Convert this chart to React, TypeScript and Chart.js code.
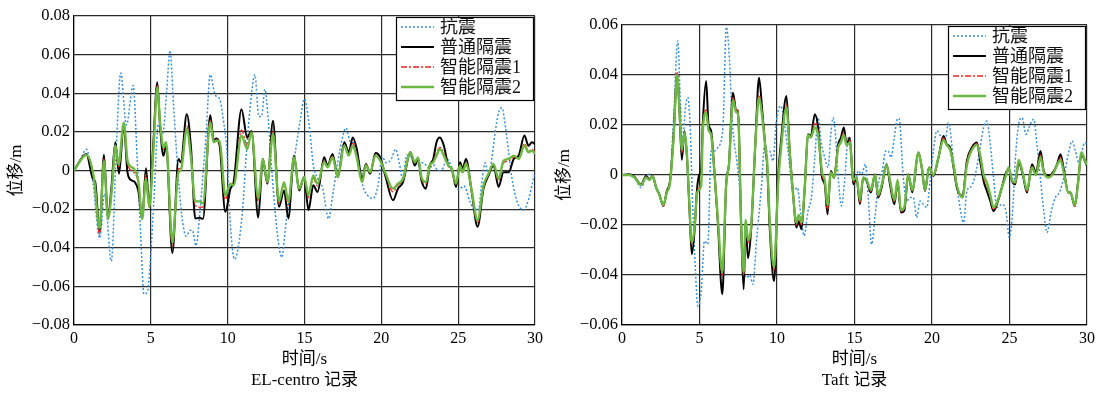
import React, { useEffect, useRef } from "react";
import { Chart, registerables } from "chart.js";
Chart.register(...registerables);

type Pt = [number, number];

const SERIES_LABELS = ["抗震", "普通隔震", "智能隔震1", "智能隔震2"];
const X_TICKS = [0, 5, 10, 15, 20, 25, 30];
const EL_Y_TICKS = [-0.08, -0.06, -0.04, -0.02, 0, 0.02, 0.04, 0.06, 0.08];
const TAFT_Y_TICKS = [-0.06, -0.04, -0.02, 0, 0.02, 0.04, 0.06];
const X_TITLE = "时间/s";
const Y_TITLE = "位移/m";
const EL_CAPTION = "EL-centro 记录";
const TAFT_CAPTION = "Taft 记录";

// ---------- EL-centro record ----------
const elSeismic: Pt[] = [[0,0],[0.4,0.005],[0.8,0.011],[1.23,-0.006],[1.67,-0.035],[1.99,-0.012],[2.43,-0.047],[2.75,0.011],[3.04,0.0505],[3.41,0.0236],[3.85,0.044],[4.11,0.006],[4.35,-0.035],[4.55,-0.064],[4.77,-0.063],[4.99,-0.044],[5.2,-0.015],[5.49,0.024],[5.77,0.0185],[6.03,0.041],[6.25,0.062],[6.47,0.035],[6.73,0.003],[7.01,-0.023],[7.3,-0.034],[7.56,-0.031],[7.71,-0.031],[7.93,-0.039],[8.21,-0.02],[8.59,0.0185],[8.87,0.0496],[9.19,0.039],[9.48,0.037],[9.74,0.025],[9.95,0.01],[10.15,-0.025],[10.45,-0.046],[10.94,-0.023],[11.27,0.015],[11.59,0.042],[11.77,0.0496],[12.03,0.028],[12.21,0.028],[12.42,0.042],[12.64,0.0265],[12.9,-0.003],[13.24,-0.033],[13.52,-0.045],[13.78,-0.028],[14.11,-0.008],[14.43,0.011],[14.76,0.028],[14.98,0.037],[15.3,0.024],[15.57,0.003],[15.85,-0.004],[16.18,-0.009],[16.57,-0.025],[16.83,-0.013],[17.16,0.004],[17.44,0.016],[17.7,0.022],[17.97,0.015],[18.25,0.014],[18.47,0.008],[18.8,-0.008],[19.12,-0.013],[19.45,-0.0145],[19.78,-0.008],[20.06,0.007],[20.32,0.004],[20.65,0.006],[20.93,0.011],[21.19,0.003],[21.37,-0.004],[21.67,0.008],[21.96,0.007],[22.28,0.003],[22.72,0.004],[23.11,0.001],[23.38,0.003],[23.7,0],[23.99,0.001],[24.25,0.006],[24.51,0.003],[24.79,-0.006],[25.01,-0.01],[25.38,-0.008],[25.77,-0.016],[26.04,-0.02],[26.32,-0.02],[26.54,-0.006],[26.76,0.004],[26.97,-0.003],[27.19,0.006],[27.41,0.02],[27.63,0.03],[27.85,0.0325],[28.07,0.023],[28.29,0.009],[28.5,-0.004],[28.83,-0.016],[29.26,-0.0205],[29.58,-0.015],[29.85,-0.006],[30,-0.001]];

const elNormal: Pt[] = [[0,0],[0.8,0.0086],[1.23,-0.0043],[1.38,-0.006],[1.67,-0.0316],[1.95,0.0082],[2.21,-0.0248],[2.43,-0.0094],[2.69,0.0146],[2.93,-0.0017],[3.24,0.024],[3.48,-0.0009],[3.74,-0.0051],[3.96,-0.006],[4.18,-0.0103],[4.44,-0.0248],[4.68,0.0012],[4.9,-0.018],[5.16,0.0137],[5.42,0.0457],[5.6,0.0231],[5.82,0.0077],[5.99,0.0128],[6.4,-0.0427],[6.8,0.006],[6.95,0.0043],[7.34,0.0291],[7.62,0.0111],[7.89,-0.0248],[8.17,-0.0245],[8.39,-0.025],[8.87,0.0286],[9.09,0.0154],[9.24,0.0166],[9.48,0.0128],[9.85,-0.0215],[10.18,-0.0094],[10.39,-0.006],[10.9,0.0317],[11.27,0.0171],[11.55,0.0205],[11.99,-0.0244],[12.29,0.006],[12.58,-0.0068],[12.95,0.0257],[13.34,-0.0188],[13.67,-0.0103],[13.95,-0.0248],[14.32,0.0077],[14.65,-0.0103],[14.98,-0.0034],[15.26,-0.0205],[15.57,-0.0077],[15.85,-0.0111],[16.28,0.0068],[16.5,0.0026],[16.83,0.0086],[17.16,-0.0034],[17.59,0.0146],[17.88,0.0094],[18.14,0.0171],[18.4,0.0111],[18.75,-0.0043],[19.0,0.0034],[19.27,-0.0017],[19.62,0.0091],[19.93,0.0068],[20.28,-0.0034],[20.76,-0.0154],[21.08,-0.0094],[21.41,-0.006],[21.89,0.0094],[22.18,0.0026],[22.39,0.006],[22.61,-0.0051],[22.9,-0.0094],[23.15,0.0026],[23.38,0.006],[23.59,0.0146],[23.81,0.0171],[24.07,0.0128],[24.36,0.0026],[24.58,0.0009],[24.86,-0.0085],[25.12,0.0043],[25.29,0.0009],[25.51,0.006],[25.88,-0.0111],[26.26,-0.0291],[26.65,-0.0094],[26.97,-0.0026],[27.3,0.0026],[27.63,-0.0085],[27.95,-0.0009],[28.29,-0.0009],[28.62,0.006],[28.94,0.0077],[29.31,0.0181],[29.58,0.0128],[29.8,0.0146],[30,0.0137]];

const elSmart1: Pt[] = [[0,0],[0.8,0.008],[1.3,-0.004],[1.67,-0.033],[1.95,0.006],[2.21,-0.025],[2.5,-0.007],[2.69,0.013],[2.9,0.002],[3.24,0.0245],[3.5,0.003],[3.9,-0.001],[4.2,-0.007],[4.44,-0.025],[4.68,-0.002],[4.9,-0.019],[5.16,0.011],[5.42,0.044],[5.6,0.024],[5.82,0.011],[5.99,0.014],[6.4,-0.039],[6.8,0.001],[6.95,0.001],[7.34,0.023],[7.62,0.007],[7.89,-0.018],[8.17,-0.019],[8.39,-0.019],[8.87,0.026],[9.09,0.015],[9.24,0.016],[9.48,0.014],[9.85,-0.015],[10.18,-0.007],[10.39,-0.007],[10.9,0.021],[11.27,0.013],[11.55,0.02],[11.99,-0.016],[12.29,0.006],[12.58,-0.006],[12.95,0.02],[13.34,-0.017],[13.67,-0.007],[13.95,-0.018],[14.32,0.007],[14.65,-0.0095],[14.98,-0.0035],[15.26,-0.014],[15.57,-0.004],[15.85,-0.008],[16.28,0.005],[16.5,0.002],[16.83,0.0075],[17.16,-0.0035],[17.59,0.013],[17.88,0.008],[18.14,0.014],[18.4,0.008],[18.75,-0.0055],[19.0,0.003],[19.27,-0.001],[19.62,0.008],[19.93,0.0055],[20.28,-0.002],[20.76,-0.011],[21.08,-0.0075],[21.41,-0.005],[21.89,0.0094],[22.18,0.004],[22.39,0.0065],[22.61,-0.004],[22.9,-0.007],[23.15,0.0026],[23.38,0.0048],[23.59,0.009],[23.81,0.012],[24.07,0.009],[24.36,0.0026],[24.58,0.001],[24.86,-0.0072],[25.12,0.003],[25.29,-0.0005],[25.51,0.004],[25.88,-0.0105],[26.26,-0.027],[26.65,-0.008],[26.97,-0.002],[27.3,0.003],[27.63,-0.0055],[27.95,0.004],[28.29,0.005],[28.62,0.007],[28.94,0.0065],[29.31,0.014],[29.58,0.01],[29.8,0.011],[30,0.0095]];

const elSmart2: Pt[] = [[0,0],[0.8,0.008],[1.3,-0.004],[1.67,-0.03],[1.95,0.005],[2.21,-0.025],[2.5,-0.006],[2.69,0.013],[2.9,0.003],[3.24,0.0248],[3.5,0.0043],[3.9,0.0009],[4.2,-0.006],[4.44,-0.025],[4.68,-0.0043],[4.9,-0.019],[5.16,0.0094],[5.42,0.043],[5.6,0.025],[5.82,0.012],[5.99,0.0146],[6.4,-0.037],[6.8,-0.0009],[6.95,0],[7.34,0.0214],[7.62,0.006],[7.89,-0.016],[8.17,-0.016],[8.39,-0.017],[8.87,0.025],[9.09,0.0146],[9.24,0.0154],[9.48,0.015],[9.85,-0.0128],[10.18,-0.0068],[10.39,-0.0077],[10.9,0.018],[11.27,0.0111],[11.55,0.0197],[11.99,-0.0145],[12.29,0.006],[12.58,-0.006],[12.95,0.019],[13.34,-0.016],[13.67,-0.006],[13.95,-0.016],[14.32,0.0068],[14.65,-0.0094],[14.98,-0.0034],[15.26,-0.0128],[15.57,-0.0026],[15.85,-0.0068],[16.28,0.0043],[16.5,0.0017],[16.83,0.0068],[17.16,-0.0034],[17.59,0.0128],[17.88,0.0077],[18.14,0.0128],[18.4,0.0068],[18.75,-0.006],[19.0,0.0026],[19.27,-0.0009],[19.62,0.0077],[19.93,0.005],[20.28,-0.0017],[20.76,-0.0094],[21.08,-0.0068],[21.41,-0.0043],[21.89,0.0094],[22.18,0.0043],[22.39,0.0068],[22.61,-0.0034],[22.9,-0.006],[23.15,0.0026],[23.38,0.0043],[23.59,0.0077],[23.81,0.0111],[24.07,0.0077],[24.36,0.0026],[24.58,0.0009],[24.86,-0.0068],[25.12,0.0026],[25.29,-0.0009],[25.51,0.0034],[25.88,-0.0103],[26.26,-0.0257],[26.65,-0.0077],[26.97,-0.0017],[27.3,0.0034],[27.63,-0.0043],[27.95,0.005],[28.29,0.006],[28.62,0.0077],[28.94,0.006],[29.31,0.0128],[29.58,0.0094],[29.8,0.0103],[30,0.0086]];

// ---------- Taft record ----------
const taftSeismic: Pt[] = [[0,0],[0.47,0.0003],[0.8,-0.001],[1.23,-0.005],[1.55,-0.001],[1.73,0.0003],[1.98,-0.001],[2.2,-0.005],[2.41,-0.008],[2.67,-0.012],[2.89,-0.007],[3.06,-0.004],[3.32,0.0216],[3.6,0.0536],[3.77,0.0283],[3.92,0.0123],[4.07,0.0256],[4.25,0.031],[4.4,0.019],[4.57,-0.0144],[4.74,-0.0384],[4.89,-0.0524],[5.11,-0.0464],[5.32,-0.0264],[5.54,-0.0277],[5.75,0.0096],[5.97,0.0096],[6.18,0.011],[6.51,0.019],[6.73,0.0592],[6.94,0.0456],[7.11,0.0216],[7.26,0.0123],[7.41,0.0056],[7.63,-0.009],[7.8,-0.0344],[8.06,-0.041],[8.23,-0.04],[8.45,-0.0437],[8.66,-0.0277],[8.99,-0.005],[9.21,0.0123],[9.31,0.0096],[9.53,0.0096],[9.74,0.0056],[9.96,0.0216],[10.24,0.0276],[10.71,0.0096],[11.04,-0.0064],[11.32,-0.005],[11.53,-0.0157],[11.75,-0.0243],[12.0,-0.0144],[12.22,-0.009],[12.44,0.007],[12.65,0.0229],[12.87,0.0123],[13.08,0.007],[13.3,0.003],[13.47,0.0163],[13.62,0.0229],[13.77,0.0163],[13.95,-0.0011],[14.16,-0.0124],[14.38,-0.0011],[14.59,0.0149],[14.81,0.0056],[15.02,-0.0037],[15.24,0.0016],[15.45,0.0003],[15.71,0.0043],[15.89,-0.009],[16.1,-0.0277],[16.32,-0.017],[16.53,-0.0037],[16.79,0.0016],[17.01,0.0096],[17.18,0.0096],[17.35,0.007],[17.57,0.0149],[17.72,0.0216],[17.87,0.0227],[18.15,-0.0011],[18.37,-0.0104],[18.58,-0.009],[18.8,-0.009],[19.01,-0.017],[19.23,-0.0104],[19.44,-0.0117],[19.66,-0.013],[19.88,-0.0024],[20.09,0.0096],[20.31,0.0176],[20.63,0.0149],[20.85,0.014],[21.06,0.0209],[21.39,0.0056],[21.71,-0.009],[22.04,-0.019],[22.25,-0.0064],[22.47,-0.005],[22.75,-0.0011],[23.0,0.007],[23.33,0.019],[23.54,0.0216],[23.76,0.0123],[23.97,-0.0011],[24.19,-0.013],[24.51,-0.0117],[24.77,-0.0144],[24.99,-0.025],[25.2,-0.0144],[25.37,0.0056],[25.59,0.0203],[25.81,0.0229],[26.06,0.0163],[26.34,0.0203],[26.56,0.0223],[26.77,0.0123],[26.99,-0.0011],[27.21,-0.0144],[27.42,-0.023],[27.7,-0.0144],[27.96,-0.009],[28.22,-0.007],[28.5,-0.0011],[28.79,0.0083],[29.04,0.0136],[29.25,0.0096],[29.47,0.005],[29.68,0.0096],[29.86,0.013],[30,0.0123]];

const taftNormal: Pt[] = [[0,0],[0.47,0.0003],[0.8,-0.0007],[1.23,-0.0037],[1.55,-0.0004],[1.77,-0.0017],[1.98,-0.0004],[2.2,-0.005],[2.41,-0.0077],[2.67,-0.0124],[2.89,-0.0064],[3.1,-0.0024],[3.32,0.0149],[3.56,0.0403],[3.71,0.0256],[3.86,0.0061],[4.03,0.0176],[4.18,0.0083],[4.35,-0.013],[4.5,-0.0317],[4.68,-0.0224],[4.83,-0.0064],[4.96,-0.0004],[5.11,0.003],[5.22,0.0216],[5.43,0.0376],[5.58,0.0203],[5.75,0.0176],[5.9,0.007],[6.19,-0.0196],[6.47,-0.0477],[6.72,-0.0037],[6.9,0.0043],[7.16,0.0329],[7.37,0.0256],[7.48,0.0256],[7.69,-0.021],[7.85,-0.0457],[7.98,-0.0197],[8.13,-0.0333],[8.34,-0.021],[8.6,0.0123],[8.84,0.0389],[9.05,0.0256],[9.27,0.0096],[9.36,0.0043],[9.53,-0.021],[9.81,-0.0424],[10.07,-0.0011],[10.28,0.0149],[10.61,0.0316],[10.82,0.0096],[11.04,-0.0077],[11.25,-0.021],[11.4,-0.0184],[11.58,-0.0217],[11.79,-0.005],[12.0,0.0163],[12.18,0.0156],[12.44,0.0243],[12.65,0.019],[12.91,-0.0011],[13.08,-0.0037],[13.26,-0.0157],[13.47,0.0016],[13.68,-0.0011],[13.95,0.0123],[14.12,0.0149],[14.31,0.019],[14.49,0.0123],[14.7,0.0149],[14.92,-0.0037],[15.13,-0.0011],[15.35,-0.0117],[15.56,-0.0011],[15.78,-0.0024],[16.06,-0.007],[16.32,0.0003],[16.53,-0.009],[16.75,-0.005],[17.07,0.0043],[17.29,-0.0037],[17.57,-0.0117],[17.78,-0.003],[18.0,-0.015],[18.21,-0.0143],[18.47,0.0003],[18.73,-0.007],[19.12,0.009],[19.34,0.003],[19.55,-0.0064],[19.81,0.003],[20.09,-0.0004],[20.42,0.007],[20.74,0.0156],[20.95,0.0123],[21.17,0.011],[21.39,0.003],[21.6,-0.005],[21.97,-0.0084],[22.25,0.0056],[22.57,0.011],[22.9,0.013],[23.11,0.0056],[23.33,-0.0024],[23.54,-0.0064],[23.76,-0.0104],[23.97,-0.0144],[24.19,-0.0117],[24.51,-0.005],[24.73,0.0003],[24.94,0.0023],[25.16,-0.0024],[25.37,-0.0037],[25.59,0.005],[25.85,0.0003],[26.13,-0.007],[26.45,0.0043],[26.71,0.001],[27.0,0.0096],[27.21,0.0016],[27.53,-0.0004],[27.86,0.0016],[28.07,0.0043],[28.29,0.0083],[28.5,0.0023],[28.79,-0.007],[28.93,-0.007],[29.21,-0.0124],[29.43,-0.0024],[29.64,0.0083],[29.86,0.0056],[30,0.0036]];

const taftSmart1: Pt[] = [[0,0],[0.47,0],[0.8,-0.001],[1.23,-0.004],[1.55,-0.001],[1.77,-0.002],[1.98,-0.0005],[2.2,-0.005],[2.41,-0.008],[2.67,-0.0125],[2.89,-0.007],[3.1,-0.003],[3.32,0.0145],[3.56,0.041],[3.71,0.026],[3.86,0.009],[4.03,0.017],[4.18,0.008],[4.35,-0.013],[4.5,-0.0275],[4.68,-0.021],[4.83,-0.007],[4.96,-0.005],[5.11,-0.002],[5.22,0.019],[5.43,0.026],[5.58,0.018],[5.75,0.016],[5.9,0.006],[6.19,-0.019],[6.47,-0.04],[6.72,-0.004],[6.9,0.004],[7.16,0.031],[7.37,0.026],[7.48,0.026],[7.69,-0.021],[7.85,-0.04],[7.98,-0.019],[8.13,-0.027],[8.34,-0.021],[8.6,0.012],[8.84,0.032],[9.05,0.024],[9.27,0.01],[9.36,0.005],[9.53,-0.019],[9.81,-0.038],[10.07,-0.003],[10.28,0.013],[10.61,0.028],[10.82,0.009],[11.04,-0.008],[11.25,-0.02],[11.4,-0.017],[11.58,-0.02],[11.79,-0.005],[12.0,0.016],[12.18,0.015],[12.44,0.021],[12.65,0.017],[12.91,0],[13.08,-0.003],[13.26,-0.014],[13.47,0.001],[13.68,-0.001],[13.95,0.011],[14.12,0.014],[14.31,0.017],[14.49,0.012],[14.7,0.014],[14.92,-0.003],[15.13,-0.001],[15.35,-0.011],[15.56,-0.001],[15.78,-0.002],[16.06,-0.0065],[16.32,0],[16.53,-0.0085],[16.75,-0.0045],[17.07,0.004],[17.29,-0.003],[17.57,-0.011],[17.78,-0.0025],[18.0,-0.0145],[18.21,-0.0135],[18.47,0],[18.73,-0.0065],[19.12,0.009],[19.34,0.003],[19.55,-0.006],[19.81,0.003],[20.09,0],[20.41,0.007],[20.74,0.0148],[20.95,0.012],[21.17,0.0105],[21.39,0.0035],[21.6,-0.0045],[21.97,-0.0088],[22.25,0.0048],[22.57,0.0105],[22.9,0.0125],[23.11,0.007],[23.33,-0.001],[23.54,-0.0045],[23.76,-0.009],[23.97,-0.0138],[24.19,-0.0115],[24.51,-0.005],[24.73,-0.0005],[24.94,0.0025],[25.16,-0.002],[25.37,-0.0033],[25.59,0.0055],[25.85,0.0008],[26.13,-0.0065],[26.45,0.0036],[26.71,0.0005],[27.0,0.0082],[27.21,0.0013],[27.53,-0.0008],[27.86,0.0013],[28.07,0.004],[28.29,0.007],[28.5,0.0015],[28.79,-0.007],[28.93,-0.007],[29.21,-0.0125],[29.43,-0.003],[29.64,0.0088],[29.86,0.006],[30,0.004]];

const taftSmart2: Pt[] = [[0,0],[0.47,0],[0.8,-0.001],[1.23,-0.004],[1.55,-0.001],[1.77,-0.002],[1.98,-0.0005],[2.2,-0.005],[2.41,-0.008],[2.67,-0.012],[2.89,-0.007],[3.1,-0.003],[3.32,0.014],[3.56,0.04],[3.71,0.026],[3.86,0.01],[4.03,0.017],[4.18,0.009],[4.35,-0.012],[4.5,-0.027],[4.68,-0.021],[4.83,-0.008],[4.96,-0.006],[5.11,-0.004],[5.22,0.018],[5.43,0.025],[5.58,0.018],[5.75,0.016],[5.9,0.006],[6.19,-0.018],[6.47,-0.039],[6.72,-0.004],[6.9,0.004],[7.16,0.03],[7.37,0.025],[7.48,0.025],[7.69,-0.02],[7.85,-0.039],[7.98,-0.018],[8.13,-0.026],[8.34,-0.02],[8.6,0.012],[8.84,0.031],[9.05,0.023],[9.27,0.01],[9.36,0.006],[9.53,-0.018],[9.81,-0.037],[10.07,-0.004],[10.28,0.012],[10.61,0.027],[10.82,0.009],[11.04,-0.008],[11.25,-0.019],[11.4,-0.016],[11.58,-0.019],[11.79,-0.005],[12.0,0.016],[12.18,0.015],[12.44,0.019],[12.65,0.016],[12.91,0.001],[13.08,-0.002],[13.26,-0.012],[13.47,0.001],[13.68,-0.001],[13.95,0.011],[14.12,0.013],[14.31,0.016],[14.49,0.012],[14.7,0.013],[14.92,-0.002],[15.13,-0.001],[15.35,-0.01],[15.56,-0.001],[15.78,-0.002],[16.06,-0.006],[16.32,0],[16.53,-0.008],[16.75,-0.004],[17.07,0.004],[17.29,-0.002],[17.57,-0.01],[17.78,-0.002],[18.0,-0.014],[18.21,-0.013],[18.47,0],[18.73,-0.006],[19.12,0.009],[19.34,0.003],[19.55,-0.006],[19.81,0.003],[20.09,0],[20.41,0.007],[20.74,0.014],[20.95,0.012],[21.17,0.01],[21.39,0.004],[21.6,-0.004],[21.97,-0.009],[22.25,0.004],[22.57,0.01],[22.9,0.012],[23.11,0.008],[23.33,0],[23.54,-0.003],[23.76,-0.008],[23.97,-0.013],[24.19,-0.011],[24.51,-0.005],[24.73,-0.001],[24.94,0.003],[25.16,-0.002],[25.37,-0.003],[25.59,0.006],[25.85,0.001],[26.13,-0.006],[26.45,0.003],[26.71,0],[27.0,0.007],[27.21,0.001],[27.53,-0.001],[27.86,0.001],[28.07,0.004],[28.29,0.006],[28.5,0.001],[28.79,-0.007],[28.93,-0.007],[29.21,-0.012],[29.43,-0.003],[29.64,0.009],[29.86,0.006],[30,0.004]];

const FONT = "'Liberation Serif', 'Times New Roman', 'Noto Sans CJK SC', serif";

const SERIES_STYLE = [
  { color: "#3d8fd3", width: 1.5, dash: [2, 2] },
  { color: "#000000", width: 2, dash: [] as number[] },
  { color: "#e8261f", width: 1.3, dash: [6, 2, 2, 2] },
  { color: "#6cb843", width: 2.4, dash: [] as number[] },
];

const fmtY = (v: number) => {
  if (Math.abs(v) < 1e-9) return "0";
  const s = Math.abs(v).toFixed(2);
  return v < 0 ? "\u2212" + s : s;
};

const boxLegend = {
  id: "boxLegend",
  afterDraw(chart: any) {
    const { ctx, chartArea } = chart;
    const w = 137, h = 83;
    const x0 = Math.round(chartArea.right - 2 - w);
    const y0 = Math.round(chartArea.top + 1);
    ctx.save();
    ctx.fillStyle = "#ffffff";
    ctx.fillRect(x0, y0, w, h);
    ctx.strokeStyle = "#000";
    ctx.lineWidth = 1.2;
    ctx.setLineDash([]);
    ctx.strokeRect(x0 + 0.5, y0 + 0.5, w, h);
    chart.data.datasets.forEach((ds: any, i: number) => {
      const cy = y0 + 10 + i * 20;
      ctx.beginPath();
      ctx.setLineDash(ds.borderDash || []);
      ctx.strokeStyle = ds.borderColor;
      ctx.lineWidth = ds.borderWidth;
      ctx.moveTo(x0 + 5, cy);
      ctx.lineTo(x0 + 38, cy);
      ctx.stroke();
      ctx.setLineDash([]);
      ctx.fillStyle = "#111";
      ctx.font = "18px " + FONT;
      ctx.textBaseline = "middle";
      ctx.textAlign = "left";
      ctx.fillText(ds.label, x0 + 44, cy + 1);
    });
    ctx.restore();
  },
};

type PanelProps = {
  series: Pt[][];
  yTicks: number[];
  caption: string;
  left: number;
  width: number;
  padTop: number;
  padRight: number;
};

function Panel({ series, yTicks, caption, left, width, padTop, padRight }: PanelProps) {
  const ref = useRef<HTMLCanvasElement>(null);
  useEffect(() => {
    const yMin = yTicks[0];
    const yMax = yTicks[yTicks.length - 1];
    const chart = new Chart(ref.current as HTMLCanvasElement, {
      type: "line",
      data: {
        datasets: series.map((s, i) => ({
          label: SERIES_LABELS[i],
          data: s.map(([x, y]) => ({ x, y })),
          borderColor: SERIES_STYLE[i].color,
          borderWidth: SERIES_STYLE[i].width,
          borderDash: SERIES_STYLE[i].dash,
          pointRadius: 0,
          fill: false,
          cubicInterpolationMode: "monotone" as const,
          order: 4 - i,
        })),
      },
      options: {
        responsive: false,
        animation: false,
        devicePixelRatio: 1,
        layout: { padding: { top: padTop, right: padRight, left: 0, bottom: 0 } },
        plugins: { legend: { display: false }, tooltip: { enabled: false } },
        scales: {
          x: {
            type: "linear",
            min: X_TICKS[0],
            max: X_TICKS[X_TICKS.length - 1],
            afterBuildTicks: (s: any) => {
              s.ticks = X_TICKS.map((v) => ({ value: v }));
            },
            ticks: {
              color: "#000",
              font: { family: FONT, size: 16 },
              padding: 4,
              maxRotation: 0,
              callback: (v: any) => String(v),
            },
            grid: { color: "#2a2a2a", lineWidth: 1.2, drawTicks: false },
            border: { display: true, color: "#000", width: 1.2 },
            title: {
              display: true,
              text: [X_TITLE, caption],
              color: "#000",
              font: { family: FONT, size: 17, lineHeight: 1.25 },
              padding: { top: 0, bottom: 4 },
            },
            afterFit: (s: any) => {
              s.height = 70;
            },
          },
          y: {
            type: "linear",
            min: yMin,
            max: yMax,
            afterBuildTicks: (s: any) => {
              s.ticks = yTicks.map((v) => ({ value: v }));
            },
            ticks: {
              color: "#000",
              font: { family: FONT, size: 16.5 },
              padding: 4,
              callback: (v: any) => fmtY(Number(v)),
            },
            grid: { color: "#2a2a2a", lineWidth: 1.2, drawTicks: false },
            border: { display: true, color: "#000", width: 1.2 },
            title: {
              display: true,
              text: Y_TITLE,
              color: "#000",
              font: { family: FONT, size: 17, lineHeight: 1.2 },
              padding: { top: 6, bottom: 0 },
            },
            afterFit: (s: any) => {
              s.width = 74;
            },
          },
        },
      },
      plugins: [boxLegend],
    } as any);
    return () => chart.destroy();
  }, []);
  return (
    <canvas
      ref={ref}
      width={width}
      height={395}
      style={{ position: "absolute", left, top: 0, width, height: 395, display: "block" }}
    />
  );
}

export default function App() {
  return (
    <div style={{ position: "absolute", left: 0, top: 0, width: 1109, height: 395, background: "#fff" }}>
      <Panel
        series={[elSeismic, elNormal, elSmart1, elSmart2]}
        yTicks={EL_Y_TICKS}
        caption={EL_CAPTION}
        left={0}
        width={548}
        padTop={16}
        padRight={13}
      />
      <Panel
        series={[taftSeismic, taftNormal, taftSmart1, taftSmart2]}
        yTicks={TAFT_Y_TICKS}
        caption={TAFT_CAPTION}
        left={548}
        width={561}
        padTop={25}
        padRight={22}
      />
    </div>
  );
}
